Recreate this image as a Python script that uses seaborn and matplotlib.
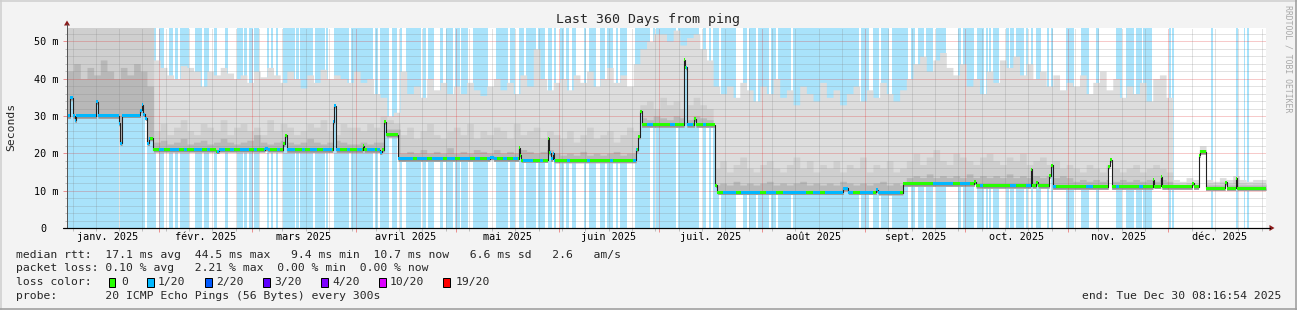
import numpy as np
import pandas as pd
import matplotlib
matplotlib.use("Agg")
import matplotlib.pyplot as plt
import seaborn as sns
from matplotlib.patches import Rectangle, Polygon
from matplotlib.lines import Line2D

# ---------------------------------------------------------------- data
START = "2025-01-04 08:16:54"
END = "2025-12-30 08:16:54"
SPAN_DAYS = 360
Y_TOP = 53.56

MONTH_STARTS = ["2025-01-01", "2025-02-01", "2025-03-01", "2025-04-01", "2025-05-01",
                "2025-06-01", "2025-07-01", "2025-08-01", "2025-09-01", "2025-10-01",
                "2025-11-01", "2025-12-01", "2026-01-01"]
MONTH_LABELS = ["janv. 2025", "févr. 2025", "mars 2025", "avril 2025", "mai 2025",
                "juin 2025", "juil. 2025", "août 2025", "sept. 2025", "oct. 2025",
                "nov. 2025", "déc. 2025"]

Y_TICKS = [0, 10, 20, 30, 40, 50]
Y_TICK_LABELS = ["0  ", "10 m", "20 m", "30 m", "40 m", "50 m"]

# median rtt (ms) as steps: day offset from START -> value
MEDIAN_T = [0, 1.05, 1.8, 2.4, 2.85, 8.85, 9.3, 15.6, 16.0, 16.5, 22.05, 22.4, 22.95, 23.55,
            24.15, 24.75, 25.95, 44.85, 45.6, 59.4, 60.3, 64.95, 65.4, 66.0, 79.8, 80.25,
            80.85, 88.8, 89.25, 93.9, 94.5, 95.25, 95.85, 99.45, 126.9, 128.1, 135.6, 136.05,
            136.35, 144.3, 144.75, 145.2, 145.8, 146.25, 170.85, 171.45, 172.05, 172.5,
            185.25, 185.7, 186.15, 188.4, 188.85, 194.7, 195.3, 233.1, 234.6, 243.0, 243.6,
            250.95, 272.4, 273.0, 289.35, 289.8, 291.0, 291.6, 294.9, 295.35, 295.95, 312.6,
            313.05, 313.65, 326.0, 326.4, 328.35, 328.8, 337.8, 338.25, 339.75, 340.2,
            341.85, 347.7, 348.15, 350.85, 351.3]
MEDIAN_V = [30.0, 34.9, 30.0, 28.9, 30.0, 33.8, 30.0, 28.0, 22.7, 30.2, 31.5, 33.0, 30.5, 29.4,
            22.7, 24.0, 21.0, 20.6, 21.0, 21.3, 21.0, 22.5, 24.9, 20.9, 28.5, 32.8,
            20.9, 22.0, 20.9, 20.3, 21.0, 28.5, 25.0, 18.5, 18.9, 18.5, 21.5, 19.5,
            18.2, 24.0, 20.2, 18.5, 20.0, 18.1, 21.0, 24.5, 31.3, 27.6,
            45.0, 43.0, 27.6, 29.2, 27.6, 11.5, 9.6, 10.6, 9.6, 10.2, 9.5,
            11.8, 12.4, 11.3, 15.7, 11.3, 12.2, 11.3, 14.0, 16.8, 11.0, 16.5,
            18.3, 11.0, 12.9, 11.2, 13.7, 11.0, 12.0, 11.0, 19.5, 20.4,
            10.7, 12.2, 10.7, 13.3, 10.7]

# intervals (days) with 1/20 packet loss; elsewhere 0 loss
LOSS_1_20 = [(0, 25.0), (27.5, 29), (31, 33.5), (35, 36), (38, 40.5), (42, 43), (45, 47.5),
             (49, 50), (52, 54.5), (56, 57), (59, 61), (63, 64), (66, 68.5), (70.5, 71.5),
             (73, 75), (77, 79.5), (80, 82), (84, 85), (87, 88.5), (90, 92.5), (93, 94.5),
             (99.5, 104), (105, 108), (109.5, 113), (114, 116.5), (118, 121), (122.5, 124),
             (126, 129), (131, 132), (134, 135.5), (137, 140), (142, 143), (145, 146.5),
             (150, 151), (156, 157), (163, 164), (170, 171), (174, 176), (181, 182.5),
             (186, 188), (191, 192), (197, 201), (202.5, 208), (210, 213), (215, 222),
             (224, 226), (227.5, 236), (238, 242), (243, 250), (260, 266), (268, 271),
             (274, 275), (283, 285), (288, 289.5), (296, 297), (306, 308), (315, 316),
             (322, 323)]

# smoke (ping spread) tops, 2-day bins
SMOKE_BIN = 2
SMOKE_MAX = [60, 60, 60, 60, 60, 60, 60, 60, 60, 60, 60, 60, 60,
             45, 43, 41, 40, 43.5, 43, 42, 38, 42, 41, 43, 41.5, 40,
             41, 39, 42, 40.5, 43, 41, 39, 42, 40, 37.5, 41, 39, 42.5, 40, 41, 40, 39,
             42, 39, 40, 36, 35, 30, 31,
             42, 36, 38, 35, 40, 37, 39, 36,
             38, 36, 39, 37, 35.5, 38, 40, 37, 39, 36, 41, 38, 48, 40, 37, 39,
             40, 37, 41, 39, 42, 38, 40, 43, 39, 41, 38, 44, 48, 50, 52,
             52, 50, 53, 49, 51, 52, 48, 45, 38,
             36, 38, 35, 39, 37, 34, 38, 36, 40, 35, 37, 33, 38, 36, 34, 39, 35, 37, 33, 36,
             38, 34, 37, 35, 39, 36, 34, 37,
             40, 44, 46, 42, 45, 47, 43, 41, 44, 38, 40, 36, 42, 39, 45, 43, 46, 41, 44, 40,
             42, 38, 41, 37, 39,
             38, 41, 36, 39, 42, 37, 40, 35, 38, 36, 39, 34, 40, 41, 35,
             13, 12.5, 13.5, 13, 22, 13, 12.5, 13.5, 13, 14, 13, 12.5, 13, 13]
SMOKE_MID = [60, 60, 60, 60, 60, 60, 60, 60, 60, 60, 60, 60, 60,
             26, 28, 25, 27, 29, 26, 25, 28, 27, 26, 29, 25, 27, 28, 26, 27, 25, 29, 26, 28,
             27, 25, 26, 28, 27, 29, 26, 25, 28, 27,
             27, 26, 28, 27, 30,
             29, 28,
             25, 27, 24, 26, 28, 25, 24, 26, 27, 25, 28, 24, 26, 25, 27, 26, 24, 28, 25, 26,
             27, 24, 26, 25,
             24, 26, 23, 25, 27, 24, 25, 26, 23, 25, 27, 26,
             33, 34, 32, 35, 33, 34, 32, 33, 35, 33, 32,
             16, 18, 15, 17, 19, 16, 15, 17, 18, 16, 15, 17, 19, 16, 18, 15, 17, 16, 18, 15,
             17, 16, 19, 15, 17, 16, 18, 15, 16,
             18, 20, 17, 19, 21, 18, 17, 20, 19, 18, 17, 19, 20, 18, 17, 19, 18, 20, 17, 18,
             19, 17, 18, 16, 17,
             16, 15, 17, 16, 15, 17, 16, 15, 16, 17, 15, 16, 17, 16, 15,
             12, 11.8, 12.2, 12, 21, 12, 11.8, 12.5, 12, 13, 12, 11.8, 12, 12]
SMOKE_DARK = [42, 44, 40, 43, 41, 45, 42, 40, 43, 41, 44, 42, 38,
              23, 23.5, 22.5, 23, 24, 22.5, 23, 23.5, 22.5, 23, 24, 23, 22.5, 23, 23.5, 25,
              23, 22.5, 23, 23.5, 23, 22.5, 23, 24, 23, 22.5, 23, 23.5, 23, 22.5,
              22.5, 23, 22.5, 23, 23,
              26.5, 26.5,
              20, 20.5, 20, 21, 20, 20.5, 20, 21.5, 20, 20.5, 20, 21, 20.5, 20, 21, 20, 20.5,
              20, 21, 20.5, 20, 20.5, 21, 20,
              19.5, 20, 19.5, 20.5, 19.5, 20, 19.5, 20, 20.5, 19.5, 20, 20,
              29.5, 29, 30, 29.5, 29, 30, 29.5, 29, 30, 29.5, 29,
              11.5, 12, 11.5, 12.5, 11.5, 12, 11.5, 12, 12.5, 11.5, 12, 11.5, 12, 12.5, 11.5,
              12, 11.5, 12, 11.5, 12.5, 12, 11.5, 12, 11.5, 12, 12.5, 11.5, 12, 11.5,
              13.5, 14, 13.5, 14.5, 13.5, 14, 13.5, 14, 13.5, 14.5, 13.5, 14, 13.5, 14, 13.5,
              14.5, 13.5, 14, 13.5, 14, 13.5, 14, 13.5, 14, 13.5,
              12.5, 13, 12.5, 13, 12.5, 13, 12.5, 13, 12.5, 13, 12.5, 13, 12.5, 13, 12.5,
              11.5, 11.5, 11.5, 11.5, 21, 11.5, 11.5, 11.5, 11.5, 11.5, 11.5, 11.5, 11.5, 11.5]
MIN_BELOW_MEDIAN = 0.6

# day intervals without the light-blue background column
WHITE_GAPS = [(15.5, 15.8), (23.4, 24.1), (26.7, 27.7), (29.1, 30.5), (31.9, 32.5), (33.4, 33.9),
              (36.7, 38.4), (40.4, 41.1), (42.6, 44.2), (45.0, 47.5), (48.3, 50.9), (52.7, 53.2),
              (54.1, 54.7), (55.7, 56.2), (57.5, 59.9), (60.6, 61.2), (61.9, 62.7), (63.4, 64.9),
              (68.4, 68.9), (69.7, 70.1), (73.9, 74.4), (77.4, 77.9), (78.4, 80.3), (84.7, 85.2),
              (91.9, 92.4), (93.4, 93.9), (96.7, 97.7), (99.1, 99.9), (100.7, 101.9),
              (106.4, 106.9), (107.9, 108.5), (110.1, 111.9), (112.9, 113.7), (115.9, 116.4),
              (117.9, 118.4), (120.4, 121.9), (126.4, 128.9), (132.4, 132.9), (134.4, 135.7),
              (137.2, 137.9), (140.9, 141.4), (143.4, 144.4), (145.7, 146.2), (146.9, 147.9),
              (149.1, 149.9), (150.7, 151.5), (152.7, 155.1), (155.9, 156.7), (158.9, 159.9),
              (161.4, 162.1), (163.9, 164.7), (165.4, 165.9), (168.2, 170.4), (174.9, 175.9),
              (176.4, 176.9), (182.9, 183.4), (189.9, 190.9), (191.9, 192.7), (193.4, 193.9),
              (195.7, 196.4), (200.9, 202.9), (204.1, 204.7), (206.9, 207.5), (210.9, 211.5),
              (212.9, 213.4), (217.4, 218.1), (237.9, 238.4), (240.9, 241.9), (243.9, 244.4),
              (246.9, 247.7), (252.4, 253.4), (254.7, 255.4), (257.4, 257.9), (260.1, 260.9),
              (263.9, 267.4), (268.4, 269.1), (272.4, 273.1), (275.4, 275.9), (276.4, 276.9),
              (277.4, 277.9), (279.7, 281.9), (282.7, 283.1), (284.4, 284.9), (287.4, 287.9),
              (288.4, 289.4), (290.1, 290.9), (292.4, 294.1), (294.7, 295.4), (296.1, 300.1),
              (302.4, 304.4), (306.9, 308.9), (309.9, 314.9), (316.7, 317.9), (320.4, 320.9),
              (322.7, 323.1), (325.7, 330.9), (331.5, 331.9), (332.4, 343.4), (344.1, 350.9),
              (351.6, 353.4), (353.8, 354.4), (354.9, 360)]

TITLE = "Last 360 Days from ping"
Y_LABEL = "Seconds"
LEGEND_RTT = "median rtt:  17.1 ms avg  44.5 ms max   9.4 ms min  10.7 ms now   6.6 ms sd   2.6   am/s"
LEGEND_LOSS = "packet loss: 0.10 % avg   2.21 % max  0.00 % min  0.00 % now"
LOSS_LABELS = ["0", "1/20", "2/20", "3/20", "4/20", "10/20", "19/20"]
LOSS_COLORS = ["#26FF00", "#00B8FF", "#0059FF", "#5E00FF", "#7E00FF", "#DD00FF", "#FF0000"]
PROBE = "probe:       20 ICMP Echo Pings (56 Bytes) every 300s"
END_TEXT = "end: Tue Dec 30 08:16:54 2025"
WATERMARK = "RRDTOOL / TOBI OETIKER"

# ---------------------------------------------------------------- style
W, H, DPI = 1297, 310, 100
BG = "#F3F3F3"
SKY = "#A9E3FB"
SMOKE_LIGHT, SMOKE_MIDC, SMOKE_DARKC, SMOKE_MINC = "#DDDDDD", "#CFCFCF", "#B8B8B8", "#9A9A9A"
GRID_MINOR = (0.5, 0.5, 0.5, 0.45)
GRID_MAJOR = (0.88, 0.1, 0.1, 0.45)
DOT = (0, (1, 1))
PX = 72.0 / DPI

sns.set_theme(style="white")
plt.rcParams["font.family"] = ["DejaVu Sans Mono", "DejaVu Sans"]
plt.rcParams["lines.scale_dashes"] = True


def fx(px):
    return px / W


def fy(py):
    return 1 - py / H


fig = plt.figure(figsize=(W / DPI, H / DPI), dpi=DPI, facecolor=BG)
ax = fig.add_axes([fx(67), fy(228), 1199 / W, 200 / H])
ax.set_facecolor("white")
ax.set_xlim(0, SPAN_DAYS)
ax.set_ylim(0, Y_TOP)
for s in ax.spines.values():
    s.set_visible(False)

start = pd.Timestamp(START)


def day_of(s):
    return (pd.Timestamp(s) - start) / pd.Timedelta(days=1)


month_pos = [day_of(s) for s in MONTH_STARTS]
mid_pos = [(a + b) / 2 for a, b in zip(month_pos[:-1], month_pos[1:])]
week_pos = [day_of(d) for d in pd.date_range("2025-01-06", END, freq="7D")]
month_in = [m for m in month_pos if 0 < m < SPAN_DAYS]
week_in = [w for w in week_pos if 0 < w < SPAN_DAYS and min(abs(w - m) for m in month_pos) > 0.3]

# background columns
ax.axvspan(0, SPAN_DAYS, color=SKY, lw=0, zorder=1)
for a, b in WHITE_GAPS:
    ax.axvspan(a, b, color="white", lw=0, zorder=1.1)

# fine step grid
edges = set(np.arange(0, SPAN_DAYS + SMOKE_BIN, SMOKE_BIN).tolist()) | set(MEDIAN_T)
for a, b in LOSS_1_20:
    edges |= {a, b}
x = np.array(sorted(e for e in edges if 0 <= e <= SPAN_DAYS), dtype=float)
left = x[:-1]
mt, mv = np.array(MEDIAN_T), np.array(MEDIAN_V)
med = mv[np.searchsorted(mt, left, side="right") - 1]
bins = np.minimum((left // SMOKE_BIN).astype(int), len(SMOKE_MAX) - 1)
lo = med - MIN_BELOW_MEDIAN

# explicit step vertices: every interval gets its own two points
xs = np.repeat(x, 2)[1:-1]


def st(a):
    return np.repeat(a, 2)


for top, col, z in [(SMOKE_MAX, SMOKE_LIGHT, 2.0), (SMOKE_MID, SMOKE_MIDC, 2.1),
                    (SMOKE_DARK, SMOKE_DARKC, 2.2)]:
    hi = np.maximum(np.array(top, dtype=float)[bins], med)
    ax.fill_between(xs, st(lo), st(hi), color=col, lw=0, zorder=z)
ax.fill_between(xs, st(lo), st(med), color=SMOKE_MINC, lw=0, zorder=2.3)

# grid (drawn over the areas, like rrdtool)
minor_y = [v for v in range(2, 54, 2) if v % 10]
major_y = [10, 20, 30, 40, 50]
ax.hlines(minor_y, 0, SPAN_DAYS, colors=[GRID_MINOR], linestyles=DOT, lw=PX, zorder=3)
ax.hlines(major_y, 0, SPAN_DAYS, colors=[GRID_MAJOR], linestyles=DOT, lw=PX, zorder=3)
ax.vlines(week_in, 0, Y_TOP, colors=[GRID_MINOR], linestyles=DOT, lw=PX, zorder=3)
ax.vlines(month_in, 0, Y_TOP, colors=[GRID_MAJOR], linestyles=DOT, lw=PX, zorder=3)
dpx = SPAN_DAYS / 1199.0
mpx = Y_TOP / 200.0
ax.hlines(minor_y, -2.5 * dpx, 0, colors=[GRID_MINOR], lw=PX, clip_on=False, zorder=3)
ax.hlines(major_y, -4 * dpx, 0, colors=[GRID_MAJOR], lw=PX, clip_on=False, zorder=3)
ax.vlines(week_in, -2.5 * mpx, 0, colors=[GRID_MINOR], lw=PX, clip_on=False, zorder=3)
ax.vlines(month_in, -3.5 * mpx, 0, colors=[GRID_MAJOR], lw=PX, clip_on=False, zorder=3)

# median line (under) + loss-coloured band (over)
sns.lineplot(x=xs, y=st(med), color="#202020", linewidth=1.1 * PX,
             estimator=None, sort=False, ax=ax)
for ln in ax.get_lines():
    ln.set_zorder(3.5)
loss = np.zeros(len(left), dtype=bool)
for a, b in LOSS_1_20:
    loss |= (left >= a) & (left < b)
band_lo, band_hi = med - 0.4, med + 0.4
for mask, col in [(~loss, LOSS_COLORS[0]), (loss, LOSS_COLORS[1])]:
    ax.fill_between(xs, st(np.where(mask, band_lo, np.nan)), st(np.where(mask, band_hi, np.nan)),
                    color=col, lw=0, zorder=5)

# ticks and labels
ax.set_yticks(Y_TICKS, Y_TICK_LABELS)
ax.set_xticks(mid_pos, MONTH_LABELS)
ax.tick_params(axis="y", length=0, pad=8 * PX, labelsize=7.3, colors="black")
ax.tick_params(axis="x", length=0, pad=4 * PX, labelsize=7.3, colors="black")
ax.set_xlabel("")
ax.set_ylabel("")

# axes lines and arrows
fig.add_artist(Line2D([fx(67), fx(67)], [fy(228), fy(24)], color="#555555", lw=1.0 * PX))
fig.add_artist(Line2D([fx(63), fx(1270)], [fy(228), fy(228)], color="black", lw=1.2 * PX))
fig.add_artist(Polygon([(fx(64), fy(25.5)), (fx(70), fy(25.5)), (fx(67), fy(20.5))],
                       closed=True, color="#8B1A1A", lw=0, transform=fig.transFigure))
fig.add_artist(Polygon([(fx(1269.5), fy(225)), (fx(1269.5), fy(231)), (fx(1274.5), fy(228))],
                       closed=True, color="#8B1A1A", lw=0, transform=fig.transFigure))

# frame shading
fig.add_artist(Line2D([0, 1], [fy(0.8), fy(0.8)], color="#CFCFCF", lw=1.6 * PX))
fig.add_artist(Line2D([fx(0.8), fx(0.8)], [0, 1], color="#CFCFCF", lw=1.6 * PX))
fig.add_artist(Line2D([0, 1], [fy(309.2), fy(309.2)], color="#9E9E9E", lw=1.6 * PX))
fig.add_artist(Line2D([fx(1296.2), fx(1296.2)], [0, 1], color="#9E9E9E", lw=1.6 * PX))

# texts
fig.text(fx(648), fy(19), TITLE, fontsize=9.5, ha="center", va="center")
fig.text(fx(11), fy(127), Y_LABEL, fontsize=8.2, rotation=90, ha="center", va="center")
fig.text(fx(1288), fy(5), WATERMARK, fontsize=5.9, rotation=270, color="#A8A8A8",
         ha="center", va="top")

LFS = 8.2
fig.text(fx(16), fy(254.5), LEGEND_RTT, fontsize=LFS, ha="left", va="center")
fig.text(fx(16), fy(268.3), LEGEND_LOSS, fontsize=LFS, ha="left", va="center")
fig.text(fx(16), fy(282.3), "loss color:", fontsize=LFS, ha="left", va="center")
box_x = [108.5, 147, 205, 263, 320.5, 378.5, 443]
lab_x = [121.5, 158, 216, 274, 332, 390, 456]
for bx, lx, lab, col in zip(box_x, lab_x, LOSS_LABELS, LOSS_COLORS):
    fig.add_artist(Rectangle((fx(bx), fy(286.5)), 7 / W, 9 / H, transform=fig.transFigure,
                             facecolor=col, edgecolor="black", lw=1.0 * PX))
    fig.text(fx(lx), fy(282.3), lab, fontsize=LFS, ha="left", va="center")
fig.text(fx(16), fy(296), PROBE, fontsize=LFS, ha="left", va="center")
fig.text(fx(1281), fy(296), END_TEXT, fontsize=LFS, ha="right", va="center")

fig.savefig("out.png", dpi=DPI, facecolor=BG)
